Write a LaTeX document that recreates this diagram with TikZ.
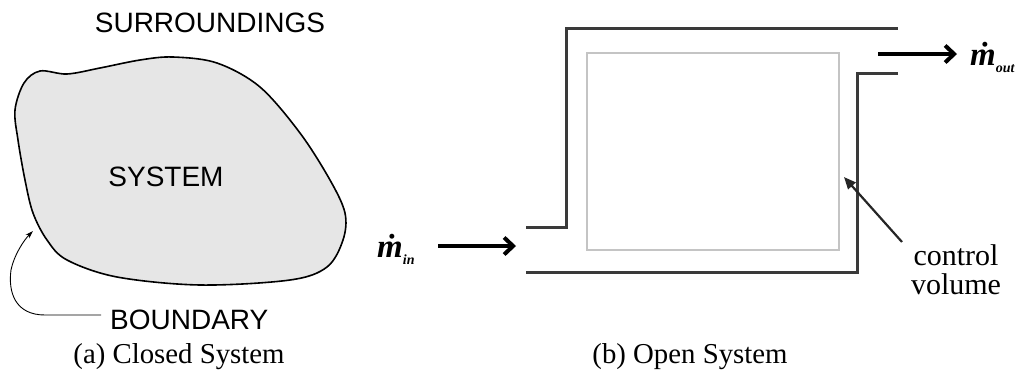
\documentclass[tikz,border=0pt]{standalone}
\usepackage{amsmath}
\usepackage{fontspec}
\setmainfont{Liberation Serif}
\setsansfont{Liberation Sans}
\usetikzlibrary{arrows.meta}
\definecolor{wall}{HTML}{3A3A3A}
\definecolor{cvgray}{HTML}{C4C4C4}
\definecolor{blobfill}{HTML}{E6E6E6}
\newcommand{\mdotlabel}[1]{\textbf{\textit{\.m}}\raisebox{-7pt}{\fontsize{14}{15}\selectfont\textbf{\textit{#1}}}}
\tikzset{
  sanslabel/.style={font={\sffamily\fontsize{28}{30}\selectfont}, inner sep=0pt},
  caption/.style={font={\fontsize{28.8}{31}\selectfont}, inner sep=0pt},
  seriflabel/.style={font={\fontsize{30}{33}\selectfont}, inner sep=0pt, align=center},
  flowlabel/.style={font={\fontsize{33}{36}\selectfont}, inner sep=0pt},
  pipewall/.style={draw=wall, line width=3pt, line join=miter},
  flowarrow/.style={draw=black, line width=4.2pt, -{Straight Barb[length=9pt,width=17pt,line width=4pt]}},
  pointer/.style={draw=black!85, line width=2.2pt, -{Triangle[length=12pt,width=10pt]}},
}
\begin{document}
\begin{tikzpicture}[x=1pt,y=-1pt]
  \useasboundingbox (0,0) rectangle (1016,373);

  % ---------- closed system ----------
  \draw[fill=blobfill, line width=1.6pt] plot[smooth cycle, tension=0.55] coordinates {
    (15,110) (24,83) (40,71) (67,74) (100,68) (140,60) (173,57) (217,63)
    (260,87) (300,133) (330,180) (345,213) (343,240) (327,267) (290,280)
    (200,285) (117,277) (67,260) (47,240) (33,213) (25,180) (18,140)};
  \coordinate (bnd) at (33,231);

  \node[sanslabel] (surr) at (210,23) {SURROUNDINGS};
  \node[sanslabel] (sys) at (166,177) {SYSTEM};
  \node[sanslabel, anchor=west] (blabel) at (110,320) {BOUNDARY};
  \coordinate (bstart) at (101,315);
  \draw[line width=0.9pt, -{Stealth[length=8pt,width=5pt]}]
    (bstart) -- (45,315) .. controls (15,315) and (8,292) .. (11,270)
    .. controls (14,255) and (24,240) .. (bnd);

  \node[caption] (capa) at (179,357) {(a) Closed System};

  % ---------- open system ----------
  \coordinate (inU1) at (526,227);
  \coordinate (inU2) at (566,227);
  \coordinate (topL) at (566,28);
  \coordinate (topR) at (898,28);
  \coordinate (outL1) at (898,73);
  \coordinate (outL2) at (857,73);
  \coordinate (botR) at (857,272);
  \coordinate (botL) at (526,272);

  \draw[pipewall] (inU1) -- (inU2) -- (topL) -- (topR);
  \draw[pipewall] (outL1) -- (outL2) -- (botR) -- (botL);

  \node[draw=cvgray, line width=2pt, minimum width=252pt, minimum height=197pt,
        inner sep=0pt] (cv) at (713,151.5) {};

  \node[flowlabel, anchor=west] (minlabel) at (377,249) {\mdotlabel{in}};
  \coordinate (inTail) at (438,246);
  \coordinate (inTip) at (516,246);
  \draw[flowarrow] (inTail) -- (inTip);

  \node[flowlabel, anchor=west] (moutlabel) at (970,57) {\mdotlabel{out}};
  \coordinate (outTail) at (878,54);
  \coordinate (outTip) at (957,54);
  \draw[flowarrow] (outTail) -- (outTip);

  \node[seriflabel] (cvlabel) at (956,270) {control\\[-4pt]volume};
  \coordinate (cvTail) at (902,242);
  \coordinate (cvTip) at (844,177);
  \draw[pointer] (cvTail) -- (cvTip);

  \node[caption] (capb) at (690,357) {(b) Open System};
\end{tikzpicture}
\end{document}
